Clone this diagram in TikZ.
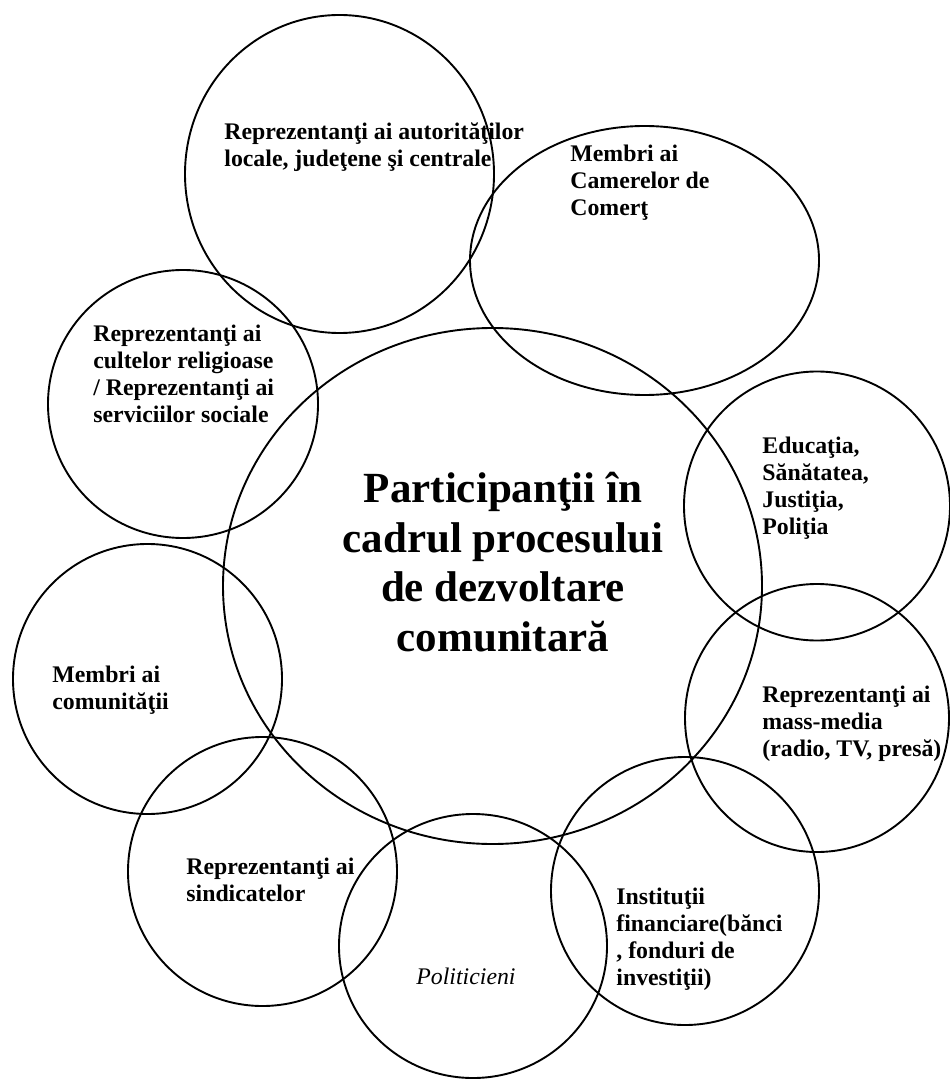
\documentclass[tikz,border=0pt]{standalone}
\usepackage{fontspec}
\setmainfont{Liberation Serif}
\usetikzlibrary{shapes.geometric}

\begin{document}
\begin{tikzpicture}[
  x=0.5pt,y=-0.5pt,
  ring/.style={ellipse,draw=black,line width=0.95pt,inner sep=0pt},
  lbl/.style={anchor=north west,inner sep=0pt,align=left,font=\fontsize{11.9}{13.5}\selectfont\bfseries},
  core/.style={anchor=north,inner sep=0pt,align=center,font=\fontsize{21.5}{24.75}\selectfont\bfseries}
]
\useasboundingbox (0,0) rectangle (949,1079);
% circles
\node[ring,minimum width=154.5pt,minimum height=159pt] (auth) at (339.5,174) {};
\node[ring,minimum width=174.5pt,minimum height=134.5pt] (cam) at (644.5,260.5) {};
\node[ring,minimum width=135pt,minimum height=134pt] (cult) at (183,404) {};
\node[ring,minimum width=269.5pt,minimum height=258pt] (centre) at (492.5,586) {};
\node[ring,minimum width=133pt,minimum height=134.5pt] (edu) at (817,506) {};
\node[ring,minimum width=132pt,minimum height=134pt] (media) at (817,718) {};
\node[ring,minimum width=134.5pt,minimum height=135pt] (comm) at (147.5,679) {};
\node[ring,minimum width=134.5pt,minimum height=134.5pt] (sind) at (262.5,871.5) {};
\node[ring,minimum width=134pt,minimum height=132pt] (pol) at (473,946) {};
\node[ring,minimum width=134pt,minimum height=134pt] (inst) at (685,891) {};
% labels
\node[core] (title) at (503,472) {Participanţii în\\cadrul procesului\\de dezvoltare\\comunitară};
\node[lbl] (authtxt) at (224,122) {Reprezentanţi ai autorităţilor\\locale, judeţene şi centrale};
\node[lbl] (camtxt) at (570,145) {Membri ai\\Camerelor de\\Comerţ};
\node[lbl] (culttxt) at (93,325) {Reprezentanţi ai\\cultelor religioase\\/ Reprezentanţi ai\\serviciilor sociale};
\node[lbl] (edutxt) at (762,437) {Educaţia,\\Sănătatea,\\Justiţia,\\Poliţia};
\node[lbl] (mediatxt) at (762,686) {Reprezentanţi ai\\mass-media\\(radio, TV, presă)};
\node[lbl] (commtxt) at (52,666) {Membri ai\\comunităţii};
\node[lbl] (sindtxt) at (186,858) {Reprezentanţi ai\\sindicatelor};
\node[lbl] (insttxt) at (616,888) {Instituţii\\financiare(bănci\\, fonduri de\\investiţii)};
\node[lbl,font=\fontsize{11.9}{13.5}\selectfont\itshape] (poltxt) at (416,968) {Politicieni};
\end{tikzpicture}
\end{document}
